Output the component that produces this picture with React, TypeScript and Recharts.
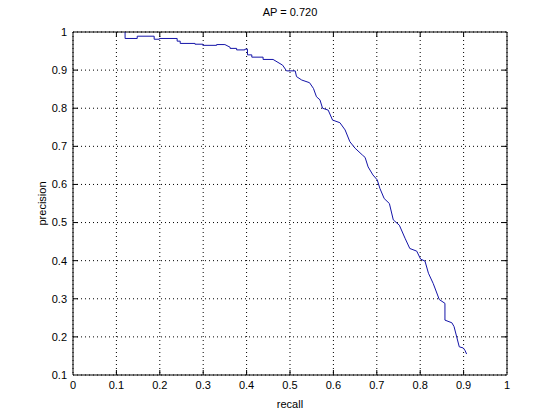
import { LineChart, Line, XAxis, YAxis, CartesianGrid, ReferenceLine, Label } from "recharts";

// precision / recall curve points
const recall = [
  0.12, 0.12, 0.148, 0.148, 0.187, 0.187, 0.199, 0.199, 0.24, 0.24, 0.247, 0.247,
  0.281, 0.281, 0.299, 0.299, 0.331, 0.331, 0.35, 0.362, 0.362, 0.377, 0.377,
  0.396, 0.396, 0.402, 0.402, 0.412, 0.412, 0.438, 0.438, 0.461, 0.483, 0.492,
  0.512, 0.515, 0.527, 0.545, 0.554, 0.561, 0.569, 0.575, 0.588, 0.598, 0.615,
  0.627, 0.638, 0.65, 0.667, 0.673, 0.68, 0.691, 0.701, 0.707, 0.717, 0.729,
  0.738, 0.752, 0.765, 0.776, 0.792, 0.801, 0.811, 0.819, 0.83, 0.844, 0.857,
  0.857, 0.873, 0.878, 0.89, 0.899, 0.903, 0.907,
];
const precision = [
  1.0, 0.983, 0.983, 0.989, 0.989, 0.981, 0.981, 0.983, 0.983, 0.976, 0.976, 0.97,
  0.97, 0.968, 0.968, 0.965, 0.965, 0.967, 0.967, 0.96, 0.957, 0.957, 0.953,
  0.953, 0.955, 0.955, 0.94, 0.94, 0.934, 0.934, 0.928, 0.928, 0.913, 0.898,
  0.898, 0.883, 0.874, 0.867, 0.852, 0.83, 0.822, 0.8, 0.795, 0.769, 0.762,
  0.743, 0.712, 0.695, 0.677, 0.671, 0.646, 0.625, 0.612, 0.59, 0.563, 0.55,
  0.507, 0.493, 0.459, 0.432, 0.425, 0.404, 0.399, 0.367, 0.34, 0.298, 0.288,
  0.244, 0.237, 0.227, 0.174, 0.171, 0.165, 0.155,
];

const xTicks = [0, 0.1, 0.2, 0.3, 0.4, 0.5, 0.6, 0.7, 0.8, 0.9, 1];
const yTicks = [0.1, 0.2, 0.3, 0.4, 0.5, 0.6, 0.7, 0.8, 0.9, 1];

const FONT = "'Liberation Sans', Arial, Helvetica, sans-serif";
const fmt = (v: number) => (Number.isInteger(v) ? String(v) : v.toFixed(1));

export default function App() {
  const data = recall.map((r, i) => ({ recall: r, precision: precision[i] }));
  const tickStyle = { fontSize: 11, fill: "#000", fontFamily: FONT };

  // little inward tick marks on all four sides, like matlab's box
  const tx = 0.0115;
  const ty = 0.0131;

  return (
    <div style={{ position: "absolute", left: 0, top: 0, width: 560, height: 420, background: "#fff" }}>
      <div
        style={{
          position: "absolute",
          left: 73,
          width: 434,
          top: 6,
          textAlign: "center",
          fontFamily: FONT,
          fontSize: 11,
          color: "#000",
        }}
      >
        AP = 0.720
      </div>
      <LineChart width={560} height={420} data={data} margin={{ top: 32, right: 53, bottom: 5, left: 33 }}>
        <CartesianGrid stroke="#000" strokeDasharray="1 3" horizontalValues={yTicks} verticalValues={xTicks} />
        <XAxis
          dataKey="recall"
          type="number"
          domain={[0, 1]}
          ticks={xTicks}
          tickFormatter={fmt}
          height={40}
          tickSize={0}
          tickMargin={6}
          tickLine={false}
          axisLine={{ stroke: "#000" }}
          tick={tickStyle}
          interval={0}
        >
          <Label value="recall" position="insideBottom" offset={7} style={{ fontSize: 11, fill: "#000", fontFamily: FONT }} />
        </XAxis>
        <YAxis
          type="number"
          domain={[0.1, 1]}
          ticks={yTicks}
          tickFormatter={fmt}
          width={40}
          tickSize={0}
          tickMargin={6}
          tickLine={false}
          axisLine={{ stroke: "#000" }}
          tick={tickStyle}
          interval={0}
        >
          <Label
            value="precision"
            angle={-90}
            position="insideLeft"
            offset={9}
            style={{ fontSize: 11, fill: "#000", fontFamily: FONT, textAnchor: "middle" }}
          />
        </YAxis>
        <ReferenceLine y={1} stroke="#000" />
        <ReferenceLine x={1} stroke="#000" />
        {xTicks.slice(1, -1).map((v) => (
          <ReferenceLine key={"xb" + v} segment={[{ x: v, y: 0.1 }, { x: v, y: 0.1 + ty }]} stroke="#000" />
        ))}
        {xTicks.slice(1, -1).map((v) => (
          <ReferenceLine key={"xt" + v} segment={[{ x: v, y: 1 }, { x: v, y: 1 - ty }]} stroke="#000" />
        ))}
        {yTicks.slice(1, -1).map((v) => (
          <ReferenceLine key={"yl" + v} segment={[{ x: 0, y: v }, { x: tx, y: v }]} stroke="#000" />
        ))}
        {yTicks.slice(1, -1).map((v) => (
          <ReferenceLine key={"yr" + v} segment={[{ x: 1, y: v }, { x: 1 - tx, y: v }]} stroke="#000" />
        ))}
        <Line
          type="linear"
          dataKey="precision"
          stroke="#1414a8"
          strokeWidth={1}
          dot={false}
          isAnimationActive={false}
        />
      </LineChart>
    </div>
  );
}
